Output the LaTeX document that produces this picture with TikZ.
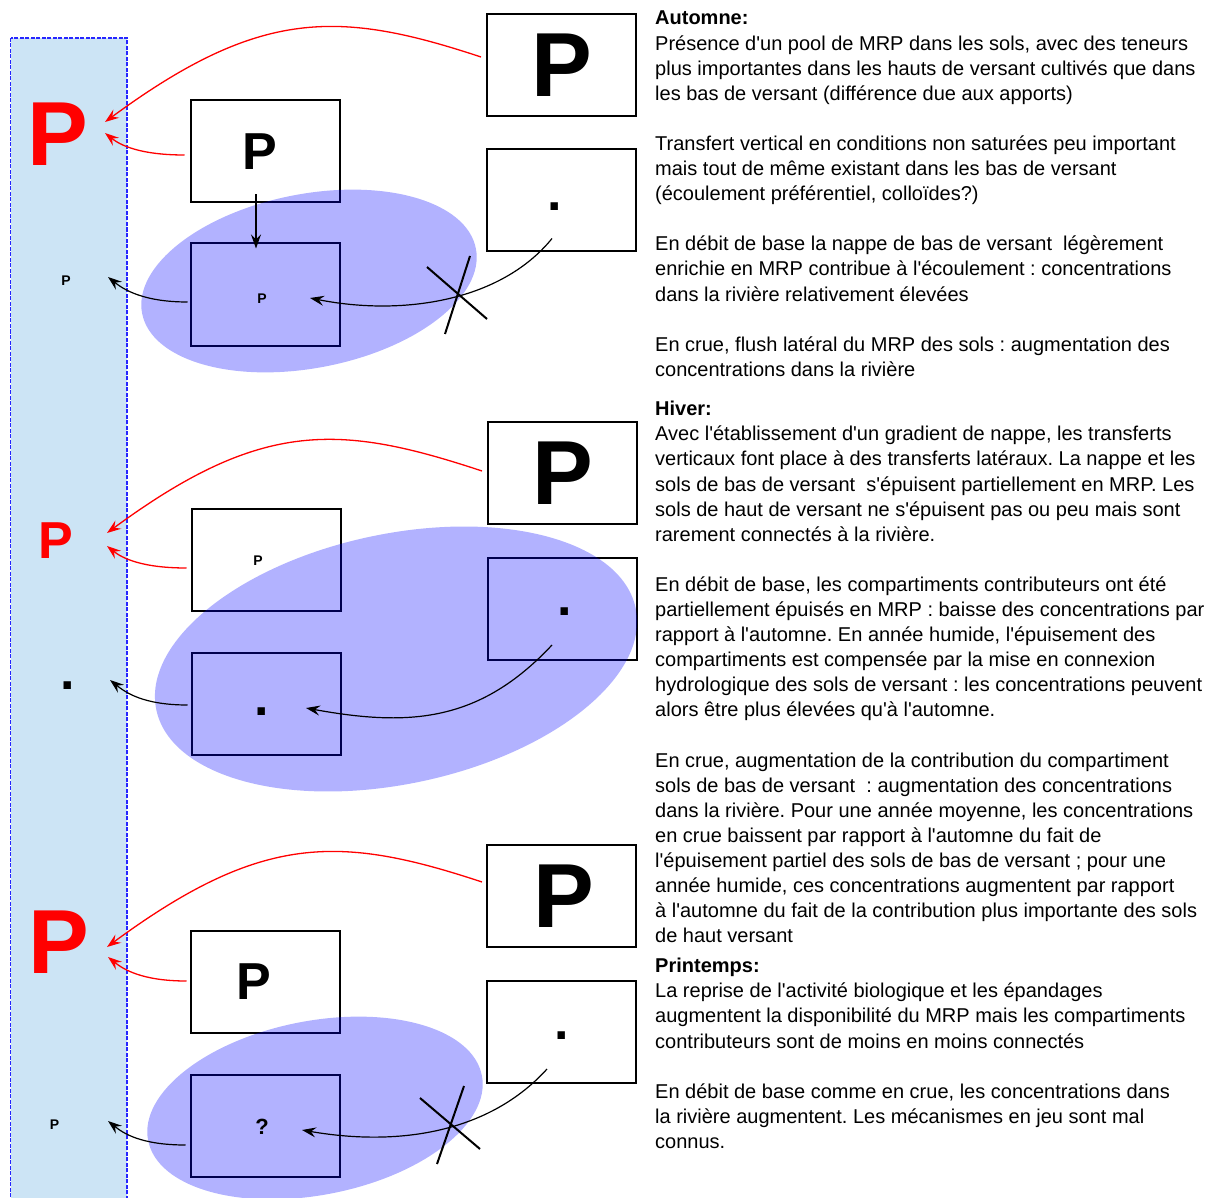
\documentclass[tikz,border=0pt]{standalone}
\usepackage{fontspec}
\setmainfont{Liberation Sans}[Ligatures=TeXOff]
\usetikzlibrary{positioning,arrows.meta}
\definecolor{riverblue}{RGB}{204,228,245}
\frenchspacing

\tikzset{
  river/.style={draw=blue!85, fill=riverblue, line width=1.2pt, dash pattern=on 4pt off 1.5pt},
  box/.style={draw, line width=2pt, minimum width=149pt, minimum height=102pt, inner sep=0pt},
  soil/.style={fill=blue, opacity=0.3},
  bigP/.style={font=\fontsize{91}{91}\selectfont\bfseries, inner sep=0pt},
  medP/.style={font=\fontsize{52}{52}\selectfont\bfseries, inner sep=0pt},
  smallP/.style={font=\fontsize{14}{14}\selectfont\bfseries, inner sep=0pt},
  redflow/.style={draw=red, line width=1.3pt, -{Stealth[length=14pt,width=10pt,inset=5pt]}},
  flow/.style={draw=black, line width=1.2pt, -{Stealth[length=14pt,width=10pt,inset=5pt]}},
  cut/.style={line width=2pt},
  season/.style={anchor=north west, align=left, inner sep=0pt, font=\fontsize{20}{25.1}\selectfont},
}

\begin{document}
\begin{tikzpicture}[x=1pt, y=-1pt]
\useasboundingbox (0,0) rectangle (1218,1198);
% riviere
\draw[river] (10.5,38) rectangle (127,1215);

% compartiments (automne)
\node[box] (bigA) at (561.5,65.5) {};
\node[box, below=31pt of bigA] (dotA) {};
\node[box] (midA) at (265,151.5) {};
\node[box, below=39pt of midA] (lowA) {};
% compartiments (hiver)
\node[box] (bigB) at (562.5,473) {};
\node[box, below=32pt of bigB] (dotB) {};
\node[box] (midB) at (266,560) {};
\node[box, below=40pt of midB] (lowB) {};
% compartiments (printemps)
\node[box] (bigC) at (561.5,895.5) {};
\node[box, below=32pt of bigC] (dotC) {};
\node[box] (midC) at (265,982) {};
\node[box, below=40pt of midC] (lowC) {};

% nappes
\fill[soil, rotate around={11:(309,281)}] (309,281) ellipse [x radius=170, y radius=87];
\fill[soil, rotate around={12:(396,659)}] (396,659) ellipse [x radius=245, y radius=125];
\fill[soil, rotate around={11:(315,1108)}] (315,1108) ellipse [x radius=170, y radius=87];

% contenus
\node[bigP] (pbigA) at (bigA.center) {P};
\node[medP] (pdotA) at ([shift={(-6.5,6)}]dotA.center) {.};
\node[medP] (pmidA) at ([shift={(-5,0)}]midA.center) {P};
\node[smallP] (plowA) at ([shift={(-3,4.5)}]lowA.center) {P};
\node[bigP] (pbigB) at (bigB.center) {P};
\node[medP] (pdotB) at ([shift={(2.5,3)}]dotB.center) {.};
\node[smallP] (pmidB) at ([shift={(-8,1)}]midB.center) {P};
\node[medP] (plowB) at ([shift={(-4,8)}]lowB.center) {.};
\node[bigP] (pbigC) at ([shift={(2,1)}]bigC.center) {P};
\node[medP] (pdotC) at ([shift={(0,4.5)}]dotC.center) {.};
\node[medP] (pmidC) at ([shift={(-11,0)}]midC.center) {P};
\node[font=\fontsize{22}{22}\selectfont\bfseries, inner sep=0pt] (plowC) at ([shift={(-3,1)}]lowC.center) {?};

% riviere
\node[bigP, red] (rivA) at (58,134) {P};
\node[smallP] (rivsA) at (66,281) {P};
\node[medP, red] (rivB) at (56,541) {P};
\node[medP] (rivsB) at (68,686) {.};
\node[bigP, red] (rivC) at (59,942) {P};
\node[smallP] (rivsC) at (54.5,1125) {P};

% flux automne
\draw[redflow] ([shift={(-5,-8.5)}]bigA.west) .. controls +(-142,-47) and +(155,-114) .. ([shift={(47,-12)}]rivA.center);
\draw[redflow] ([shift={(-5,3.5)}]midA.west) .. controls +(-45,0) and +(15,12) .. ([shift={(47,-1)}]rivA.center);
\draw[flow] ([shift={(-9,-9)}]midA.south) -- ([shift={(-9,6)}]lowA.north);
\draw[flow] ([shift={(-2,7.5)}]lowA.west) .. controls +(-45,0) and +(15,12) .. ([shift={(42,-4)}]rivsA.center);
\draw[flow] ([shift={(-9.5,-14)}]dotA.south) .. controls +(-52,64) and +(90,18) .. ([shift={(45,3.5)}]lowA.center);
\coordinate (cutA) at (458,294);
\draw[cut] ([shift={(-31,-27)}]cutA) -- ([shift={(29,25)}]cutA);
\draw[cut] ([shift={(12,-38)}]cutA) -- ([shift={(-13,40)}]cutA);

% flux hiver
\draw[redflow] ([shift={(-5,-2)}]bigB.west) .. controls +(-142,-47) and +(155,-114) .. ([shift={(51,-8)}]rivB.center);
\draw[redflow] ([shift={(-4,8)}]midB.west) .. controls +(-45,0) and +(15,12) .. ([shift={(51,5)}]rivB.center);
\draw[flow] ([shift={(-3,1)}]lowB.west) .. controls +(-45,0) and +(15,12) .. ([shift={(42,-6)}]rivsB.center);
\draw[flow] ([shift={(-10.5,36)}]dotB.center) .. controls +(-72,77) and +(104,19) .. ([shift={(40,4)}]lowB.center);

% flux printemps
\draw[redflow] ([shift={(-4,-13.5)}]bigC.west) .. controls +(-142,-47) and +(155,-114) .. ([shift={(48,5)}]rivC.center);
\draw[redflow] ([shift={(-3,-1)}]midC.west) .. controls +(-45,0) and +(15,12) .. ([shift={(49,15)}]rivC.center);
\draw[flow] ([shift={(-4,19)}]lowC.west) .. controls +(-45,0) and +(15,12) .. ([shift={(53.5,-4)}]rivsC.center);
\draw[flow] ([shift={(-14.5,37.5)}]dotC.center) .. controls +(-57,63) and +(98,17) .. ([shift={(37,4)}]lowC.center);
\coordinate (cutC) at (450,1124);
\draw[cut] ([shift={(-30,-26)}]cutC) -- ([shift={(30,25)}]cutC);
\draw[cut] ([shift={(14,-38)}]cutC) -- ([shift={(-13,40)}]cutC);

% textes
\node[season] (autumn) at (655,11) {\textbf{Automne:}\\
Présence d'un pool de MRP dans les sols, avec des teneurs\\
plus importantes dans les hauts de versant cultivés que dans\\
les bas de versant (différence due aux apports)\\[25.1pt]
Transfert vertical en conditions non saturées peu important\\
mais tout de même existant dans les bas de versant\\
(écoulement préférentiel, colloïdes?)\\[25.1pt]
En débit de base la nappe de bas de versant \ légèrement\\
enrichie en MRP contribue à l'écoulement : concentrations\\
dans la rivière relativement élevées\\[25.1pt]
En crue, flush latéral du MRP des sols : augmentation des\\
concentrations dans la rivière};
\node[season] (winter) at (655,401) {\textbf{Hiver:}\\
Avec l'établissement d'un gradient de nappe, les transferts\\
verticaux font place à des transferts latéraux. La nappe et les\\
sols de bas de versant \ s'épuisent partiellement en MRP. Les\\
sols de haut de versant ne s'épuisent pas ou peu mais sont\\
rarement connectés à la rivière.\\[25.1pt]
En débit de base, les compartiments contributeurs ont été\\
partiellement épuisés en MRP : baisse des concentrations par\\
rapport à l'automne. En année humide, l'épuisement des\\
compartiments est compensée par la mise en connexion\\
hydrologique des sols de versant : les concentrations peuvent\\
alors être plus élevées qu'à l'automne.\\[25.1pt]
En crue, augmentation de la contribution du compartiment\\
sols de bas de versant \ : augmentation des concentrations\\
dans la rivière. Pour une année moyenne, les concentrations\\
en crue baissent par rapport à l'automne du fait de\\
l'épuisement partiel des sols de bas de versant ; pour une\\
année humide, ces concentrations augmentent par rapport\\
à l'automne du fait de la contribution plus importante des sols\\
de haut versant};
\node[season] (spring) at (655,958) {\textbf{Printemps:}\\
La reprise de l'activité biologique et les épandages\\
augmentent la disponibilité du MRP mais les compartiments\\
contributeurs sont de moins en moins connectés\\[25.1pt]
En débit de base comme en crue, les concentrations dans\\
la rivière augmentent. Les mécanismes en jeu sont mal\\
connus.};
\end{tikzpicture}
\end{document}
